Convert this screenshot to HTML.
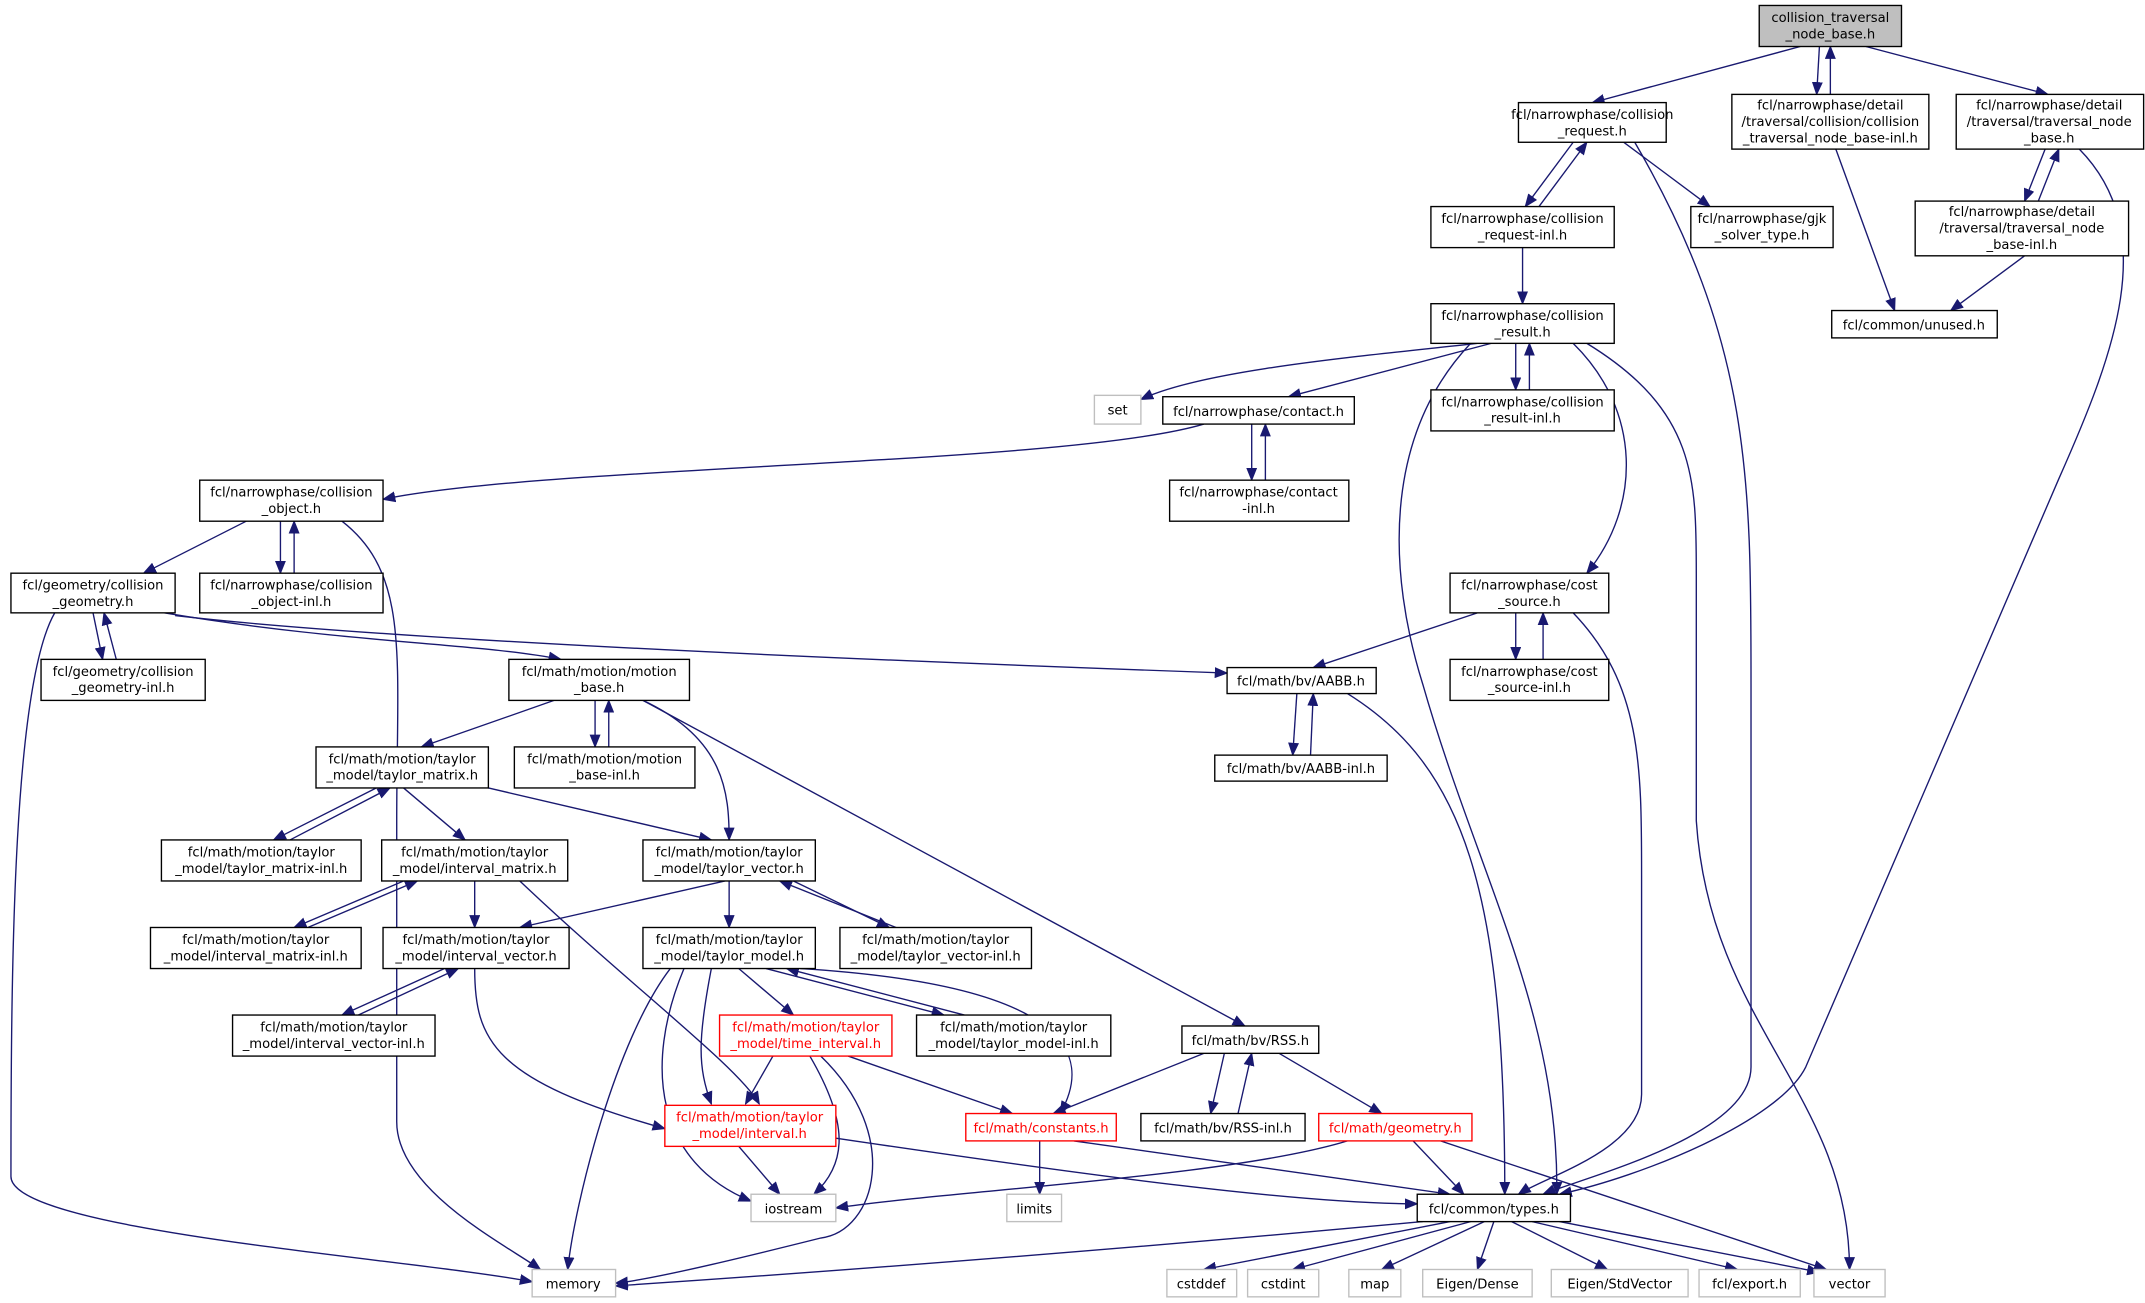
<!DOCTYPE html>
<html><head><meta charset="utf-8"><style>
html,body{margin:0;padding:0;background:#fff;}
svg{display:block}
text{font-family:"DejaVu Sans","Liberation Sans",sans-serif;font-size:9.6px;fill:#000;text-anchor:middle}
.n{fill:#fff;stroke:#000;stroke-width:1}
.g{fill:#fff;stroke:#bfbfbf;stroke-width:1}
.r{fill:#fff;stroke:#ff0000;stroke-width:1}
.e{fill:none;stroke:#191970;stroke-width:1;marker-end:url(#a)}
</style></head><body>
<svg width="2145" height="1303" viewBox="0 0 1568 952.5" xmlns="http://www.w3.org/2000/svg">
<defs><marker id="a" markerUnits="userSpaceOnUse" markerWidth="10" markerHeight="8" refX="9" refY="4" orient="auto"><path d="M0,0 L10,4 L0,8 z" fill="#191970"/></marker></defs>

<!-- edges -->
<path class="e" d="M1316,34 L1164,75"/>
<path class="e" d="M1330,34 L1328,69"/>
<path class="e" d="M1338,69 L1338,34"/>
<path class="e" d="M1364,34 L1497,69"/>
<path class="e" d="M1150,104 L1115,151"/>
<path class="e" d="M1125,151 L1160,104"/>
<path class="e" d="M1187,104 L1250,151"/>
<path class="e" d="M1195,104 C1280,250 1280,350 1280,500 L1280,780 C1280,830 1160,860 1128,873"/>
<path class="e" d="M1342,109 L1385,227"/>
<path class="e" d="M1495,109 L1480,147"/>
<path class="e" d="M1490,147 L1505,109"/>
<path class="e" d="M1520,109 C1580,170 1545,260 1505,350 L1320,780 C1300,820 1200,860 1140,873"/>
<path class="e" d="M1480,187 L1426,227"/>
<path class="e" d="M1113,181 L1113,222"/>
<path class="e" d="M1080,251 C1000,260 880,270 834,292"/>
<path class="e" d="M1090,251 L942,290"/>
<path class="e" d="M1108,251 L1108,285"/>
<path class="e" d="M1118,285 L1118,251"/>
<path class="e" d="M1075,251 C1010,320 1015,420 1040,500 C1080,640 1140,740 1138,873"/>
<path class="e" d="M1150,251 C1200,300 1200,370 1160,419"/>
<path class="e" d="M1160,251 C1240,300 1240,350 1240,420 L1240,600 C1250,750 1352,800 1352,928"/>
<path class="e" d="M880,310 C780,340 400,340 280,365"/>
<path class="e" d="M915,310 L915,351"/>
<path class="e" d="M925,351 L925,310"/>
<path class="e" d="M180,381 L105,419"/>
<path class="e" d="M205,381 L205,419"/>
<path class="e" d="M215,419 L215,381"/>
<path class="e" d="M250,381 C300,420 290,480 290,600 L290,820 C290,870 370,910 395,928"/>
<path class="e" d="M68,448 L75,482"/>
<path class="e" d="M85,482 L76,448"/>
<path class="e" d="M40,448 C10,500 8,700 8,860 C8,900 300,920 389,937"/>
<path class="e" d="M120,448 C250,470 350,470 410,482"/>
<path class="e" d="M128,450 C300,470 700,485 897,492"/>
<path class="e" d="M1080,448 L960,488"/>
<path class="e" d="M1108,448 L1108,482"/>
<path class="e" d="M1128,482 L1128,448"/>
<path class="e" d="M1150,448 C1200,500 1200,560 1200,640 L1200,800 C1200,840 1130,860 1110,873"/>
<path class="e" d="M405,512 L308,546"/>
<path class="e" d="M435,512 L435,546"/>
<path class="e" d="M445,546 L445,512"/>
<path class="e" d="M470,512 C530,540 533,580 533,614"/>
<path class="e" d="M470,512 L910,750"/>
<path class="e" d="M948,507 L945,552"/>
<path class="e" d="M958,552 L960,507"/>
<path class="e" d="M985,507 C1070,560 1100,650 1100,873"/>
<path class="e" d="M275,576 L200,614"/>
<path class="e" d="M212,614 L285,576"/>
<path class="e" d="M295,576 L340,614"/>
<path class="e" d="M357,576 L520,614"/>
<path class="e" d="M295,644 L215,678"/>
<path class="e" d="M225,678 L305,644"/>
<path class="e" d="M347,644 L347,678"/>
<path class="e" d="M380,644 C460,720 540,780 555,807"/>
<path class="e" d="M530,644 L380,678"/>
<path class="e" d="M533,644 L533,678"/>
<path class="e" d="M580,644 L650,678"/>
<path class="e" d="M655,678 L570,644"/>
<path class="e" d="M325,708 L250,742"/>
<path class="e" d="M262,742 L335,708"/>
<path class="e" d="M347,708 C347,760 360,790 486,825"/>
<path class="e" d="M540,708 L580,742"/>
<path class="e" d="M560,708 L690,742"/>
<path class="e" d="M705,742 L575,708"/>
<path class="e" d="M520,708 C510,760 510,780 520,807"/>
<path class="e" d="M500,708 C470,780 480,850 549,878"/>
<path class="e" d="M490,708 C450,760 420,880 415,928"/>
<path class="e" d="M585,708 C780,720 800,770 775,814"/>
<path class="e" d="M565,772 L545,807"/>
<path class="e" d="M620,772 L740,814"/>
<path class="e" d="M592,772 C620,820 620,850 595,873"/>
<path class="e" d="M600,772 C660,830 640,900 600,905 C560,915 480,935 450,938"/>
<path class="e" d="M880,770 L770,814"/>
<path class="e" d="M895,770 L885,814"/>
<path class="e" d="M905,814 L915,770"/>
<path class="e" d="M935,770 L1010,814"/>
<path class="e" d="M540,838 L570,873"/>
<path class="e" d="M611,832 C800,860 950,880 1036,880"/>
<path class="e" d="M760,834 L760,873"/>
<path class="e" d="M785,834 L1060,873"/>
<path class="e" d="M985,834 C900,860 700,870 611,883"/>
<path class="e" d="M1033,834 L1070,873"/>
<path class="e" d="M1053,834 L1335,928"/>
<path class="e" d="M1040,893 C800,915 600,930 450,940"/>
<path class="e" d="M1060,893 L880,928"/>
<path class="e" d="M1075,893 L945,928"/>
<path class="e" d="M1085,893 L1010,928"/>
<path class="e" d="M1092,893 L1080,928"/>
<path class="e" d="M1105,893 L1175,928"/>
<path class="e" d="M1120,893 L1270,928"/>
<path class="e" d="M1140,893 L1330,930"/>

<!-- nodes -->
<rect x="1286" y="4" width="104" height="30" fill="#bfbfbf" stroke="#000"/>
<text x="1338" y="16">collision_traversal</text><text x="1338" y="28">_node_base.h</text>

<rect class="n" x="1110" y="75" width="108" height="29"/>
<text x="1164" y="87">fcl/narrowphase/collision</text><text x="1164" y="99">_request.h</text>

<rect class="n" x="1266" y="69" width="144" height="40"/>
<text x="1338" y="80">fcl/narrowphase/detail</text><text x="1338" y="92">/traversal/collision/collision</text><text x="1338" y="104">_traversal_node_base-inl.h</text>

<rect class="n" x="1430" y="69" width="137" height="40"/>
<text x="1498" y="80">fcl/narrowphase/detail</text><text x="1498" y="92">/traversal/traversal_node</text><text x="1498" y="104">_base.h</text>

<rect class="n" x="1046" y="151" width="134" height="30"/>
<text x="1113" y="163">fcl/narrowphase/collision</text><text x="1113" y="175">_request-inl.h</text>

<rect class="n" x="1236" y="151" width="104" height="30"/>
<text x="1288" y="163">fcl/narrowphase/gjk</text><text x="1288" y="175">_solver_type.h</text>

<rect class="n" x="1400" y="147" width="156" height="40"/>
<text x="1478" y="158">fcl/narrowphase/detail</text><text x="1478" y="170">/traversal/traversal_node</text><text x="1478" y="182">_base-inl.h</text>

<rect class="n" x="1339" y="227" width="121" height="20"/>
<text x="1399" y="241">fcl/common/unused.h</text>

<rect class="n" x="1046" y="222" width="134" height="29"/>
<text x="1113" y="234">fcl/narrowphase/collision</text><text x="1113" y="246">_result.h</text>

<rect class="g" x="800" y="289" width="34" height="21"/><text x="817" y="303">set</text>

<rect class="n" x="850" y="290" width="140" height="20"/><text x="920" y="304">fcl/narrowphase/contact.h</text>

<rect class="n" x="1046" y="285" width="134" height="30"/>
<text x="1113" y="297">fcl/narrowphase/collision</text><text x="1113" y="309">_result-inl.h</text>

<rect class="n" x="146" y="351" width="134" height="30"/>
<text x="213" y="363">fcl/narrowphase/collision</text><text x="213" y="375">_object.h</text>

<rect class="n" x="855" y="351" width="131" height="30"/>
<text x="920" y="363">fcl/narrowphase/contact</text><text x="920" y="375">-inl.h</text>

<rect class="n" x="8" y="419" width="120" height="29"/>
<text x="68" y="431">fcl/geometry/collision</text><text x="68" y="443">_geometry.h</text>

<rect class="n" x="146" y="419" width="134" height="29"/>
<text x="213" y="431">fcl/narrowphase/collision</text><text x="213" y="443">_object-inl.h</text>

<rect class="n" x="1060" y="419" width="116" height="29"/>
<text x="1118" y="431">fcl/narrowphase/cost</text><text x="1118" y="443">_source.h</text>

<rect class="n" x="30" y="482" width="120" height="30"/>
<text x="90" y="494">fcl/geometry/collision</text><text x="90" y="506">_geometry-inl.h</text>

<rect class="n" x="372" y="482" width="132" height="30"/>
<text x="438" y="494">fcl/math/motion/motion</text><text x="438" y="506">_base.h</text>

<rect class="n" x="897" y="488" width="109" height="19"/><text x="951" y="501">fcl/math/bv/AABB.h</text>

<rect class="n" x="1060" y="482" width="116" height="30"/>
<text x="1118" y="494">fcl/narrowphase/cost</text><text x="1118" y="506">_source-inl.h</text>

<rect class="n" x="376" y="546" width="132" height="30"/>
<text x="442" y="558">fcl/math/motion/motion</text><text x="442" y="570">_base-inl.h</text>

<rect class="n" x="231" y="546" width="126" height="30"/>
<text x="294" y="558">fcl/math/motion/taylor</text><text x="294" y="570">_model/taylor_matrix.h</text>

<rect class="n" x="888" y="552" width="126" height="19"/><text x="951" y="565">fcl/math/bv/AABB-inl.h</text>

<rect class="n" x="118" y="614" width="146" height="30"/>
<text x="191" y="626">fcl/math/motion/taylor</text><text x="191" y="638">_model/taylor_matrix-inl.h</text>

<rect class="n" x="279" y="614" width="136" height="30"/>
<text x="347" y="626">fcl/math/motion/taylor</text><text x="347" y="638">_model/interval_matrix.h</text>

<rect class="n" x="470" y="614" width="126" height="30"/>
<text x="533" y="626">fcl/math/motion/taylor</text><text x="533" y="638">_model/taylor_vector.h</text>

<rect class="n" x="110" y="678" width="154" height="30"/>
<text x="187" y="690">fcl/math/motion/taylor</text><text x="187" y="702">_model/interval_matrix-inl.h</text>

<rect class="n" x="280" y="678" width="136" height="30"/>
<text x="348" y="690">fcl/math/motion/taylor</text><text x="348" y="702">_model/interval_vector.h</text>

<rect class="n" x="470" y="678" width="126" height="30"/>
<text x="533" y="690">fcl/math/motion/taylor</text><text x="533" y="702">_model/taylor_model.h</text>

<rect class="n" x="614" y="678" width="140" height="30"/>
<text x="684" y="690">fcl/math/motion/taylor</text><text x="684" y="702">_model/taylor_vector-inl.h</text>

<rect class="n" x="170" y="742" width="148" height="30"/>
<text x="244" y="754">fcl/math/motion/taylor</text><text x="244" y="766">_model/interval_vector-inl.h</text>

<rect class="r" x="526" y="742" width="126" height="30"/>
<text x="589" y="754" fill="#ff0000" style="fill:#ff0000">fcl/math/motion/taylor</text><text x="589" y="766" style="fill:#ff0000">_model/time_interval.h</text>

<rect class="n" x="670" y="742" width="142" height="30"/>
<text x="741" y="754">fcl/math/motion/taylor</text><text x="741" y="766">_model/taylor_model-inl.h</text>

<rect class="n" x="864" y="750" width="100" height="20"/><text x="914" y="764">fcl/math/bv/RSS.h</text>

<rect class="r" x="486" y="808" width="125" height="30"/>
<text x="548" y="820" style="fill:#ff0000">fcl/math/motion/taylor</text><text x="548" y="832" style="fill:#ff0000">_model/interval.h</text>

<rect class="r" x="706" y="814" width="110" height="20"/><text x="761" y="828" style="fill:#ff0000">fcl/math/constants.h</text>

<rect class="n" x="834" y="814" width="120" height="20"/><text x="894" y="828">fcl/math/bv/RSS-inl.h</text>

<rect class="r" x="964" y="814" width="112" height="20"/><text x="1020" y="828" style="fill:#ff0000">fcl/math/geometry.h</text>

<rect class="g" x="549" y="873" width="62" height="20"/><text x="580" y="887">iostream</text>
<rect class="g" x="736" y="873" width="40" height="20"/><text x="756" y="887">limits</text>
<rect class="n" x="1036" y="873" width="112" height="20"/><text x="1092" y="887">fcl/common/types.h</text>

<rect class="g" x="389" y="928" width="61" height="20"/><text x="419" y="942">memory</text>
<rect class="g" x="853" y="928" width="51" height="20"/><text x="878" y="942">cstddef</text>
<rect class="g" x="912" y="928" width="52" height="20"/><text x="938" y="942">cstdint</text>
<rect class="g" x="986" y="928" width="38" height="20"/><text x="1005" y="942">map</text>
<rect class="g" x="1040" y="928" width="80" height="20"/><text x="1080" y="942">Eigen/Dense</text>
<rect class="g" x="1134" y="928" width="100" height="20"/><text x="1184" y="942">Eigen/StdVector</text>
<rect class="g" x="1242" y="928" width="74" height="20"/><text x="1279" y="942">fcl/export.h</text>
<rect class="g" x="1326" y="928" width="52" height="20"/><text x="1352" y="942">vector</text>
</svg>
</body></html>
